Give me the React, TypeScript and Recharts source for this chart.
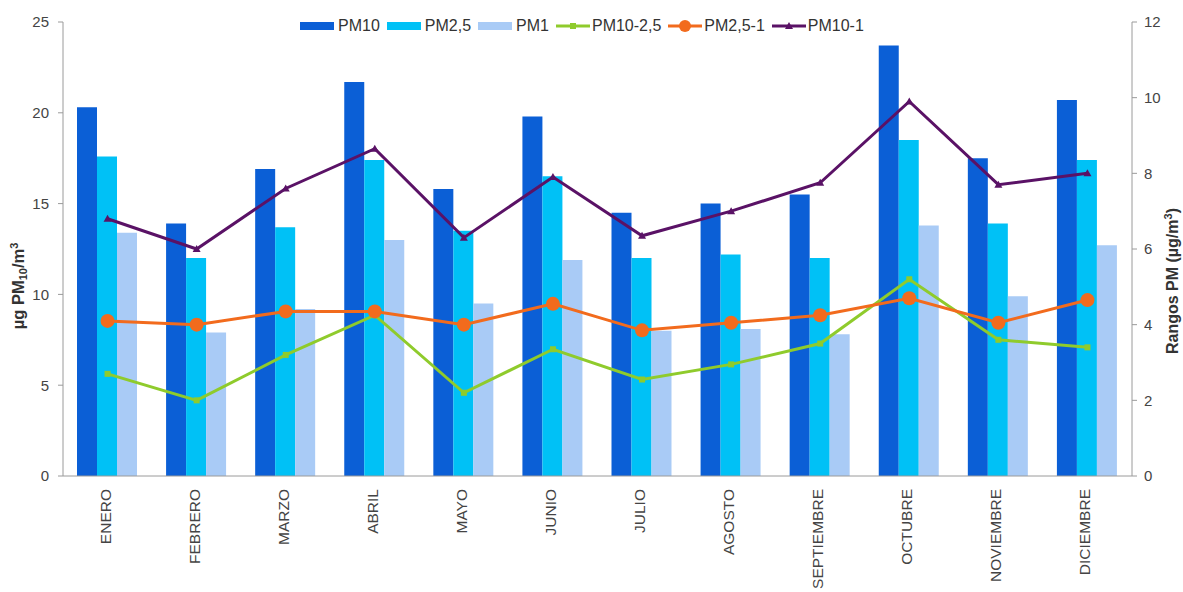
import { Bar, ComposedChart, Line, XAxis, YAxis } from "recharts";

const months = ["ENERO", "FEBRERO", "MARZO", "ABRIL", "MAYO", "JUNIO", "JULIO", "AGOSTO", "SEPTIEMBRE", "OCTUBRE", "NOVIEMBRE", "DICIEMBRE"];
const pm10 = [20.3, 13.9, 16.9, 21.7, 15.8, 19.8, 14.5, 15.0, 15.5, 23.7, 17.5, 20.7];
const pm25 = [17.6, 12.0, 13.7, 17.4, 13.5, 16.5, 12.0, 12.2, 12.0, 18.5, 13.9, 17.4];
const pm1 = [13.4, 7.9, 9.2, 13.0, 9.5, 11.9, 8.0, 8.1, 7.8, 13.8, 9.9, 12.7];
const pm10to25 = [2.7, 2.0, 3.2, 4.25, 2.2, 3.35, 2.55, 2.95, 3.5, 5.2, 3.6, 3.4];
const pm25to1 = [4.1, 4.0, 4.35, 4.35, 4.0, 4.55, 3.85, 4.05, 4.25, 4.7, 4.05, 4.65];
const pm10to1 = [6.8, 6.0, 7.6, 8.65, 6.3, 7.9, 6.35, 7.0, 7.75, 9.9, 7.7, 8.0];

const leftTicks = [0, 5, 10, 15, 20, 25];
const rightTicks = [0, 2, 4, 6, 8, 10, 12];
const boundaryTicks = [0, 1, 2, 3, 4, 5, 6, 7, 8, 9, 10, 11, 12];

const data = months.map((m, i) => ({
  month: m,
  pm10: pm10[i],
  pm25: pm25[i],
  pm1: pm1[i],
  pm10to25: pm10to25[i],
  pm25to1: pm25to1[i],
  pm10to1: pm10to1[i],
}));

const C = {
  pm10: "#0b5fd6",
  pm25: "#00c1f6",
  pm1: "#a9cbf6",
  green: "#8fcb2c",
  orange: "#f26b1d",
  purple: "#5a1266",
  axis: "#9a9a9a",
  text: "#444",
};

const font = "'Liberation Sans', Arial, sans-serif";

function MonthTick({ x, y, payload }: any) {
  const tx = x + 3;
  const ty = y + 4;
  return (
    <text x={tx} y={ty} transform={`rotate(-90 ${tx} ${ty})`} textAnchor="end" fontSize={15.5} fill={C.text} fontFamily={font}>
      {payload.value}
    </text>
  );
}

const SquareDot = ({ cx, cy }: any) => <rect x={cx - 3} y={cy - 3} width={6} height={6} fill={C.green} />;
const TriDot = ({ cx, cy }: any) => <path d={`M${cx - 4},${cy + 3} L${cx + 4},${cy + 3} L${cx},${cy - 4} Z`} fill={C.purple} />;

function LegendItem({ kind, color, label, dot }: { kind: "bar" | "line"; color: string; label: string; dot?: "sq" | "circle" | "tri" }) {
  return (
    <div style={{ display: "flex", alignItems: "center", marginRight: 7 }}>
      {kind === "bar" ? (
        <div style={{ width: 34, height: 8, background: color, marginRight: 4 }} />
      ) : (
        <svg width={34} height={14} style={{ marginRight: 2 }}>
          <line x1={0} y1={7} x2={34} y2={7} stroke={color} strokeWidth={3} />
          {dot === "circle" && <circle cx={17} cy={7} r={6} fill={color} />}
          {dot === "sq" && <rect x={14} y={4} width={6} height={6} fill={color} />}
          {dot === "tri" && <path d="M13,10 L21,10 L17,3 Z" fill={color} />}
        </svg>
      )}
      <span>{label}</span>
    </div>
  );
}

export default function App() {
  return (
    <div style={{ position: "absolute", left: 0, top: 0, width: 1183, height: 592, background: "#fff", fontFamily: font }}>
      <ComposedChart
        width={1183}
        height={592}
        data={data}
        margin={{ top: 22, right: 0, bottom: 0, left: 0 }}
        barCategoryGap={14}
        barGap={0}
      >
        <XAxis
          type="number"
          domain={[0, 12]}
          ticks={boundaryTicks}
          height={1}
          tick={false}
          stroke={C.axis}
          tickSize={5}
          allowDataOverflow
        />
        <XAxis xAxisId="cat" dataKey="month" height={115} interval={0} axisLine={false} tickLine={false} tick={<MonthTick />} />
        <YAxis
          yAxisId="left"
          domain={[0, 25]}
          ticks={leftTicks}
          width={63}
          stroke={C.axis}
          tickSize={5}
          tickMargin={9}
          tick={{ fontSize: 15, fill: C.text, fontFamily: font }}
          label={{
            content: () => (
              <text x={24} y={286} transform="rotate(-90 24 286)" textAnchor="middle" fontSize={16.5} fontWeight="bold" fill="#333" fontFamily={font}>
                µg PM<tspan fontSize={11} dy={3}>10</tspan>
                <tspan dy={-3}>/m</tspan>
                <tspan fontSize={11} dy={-6}>3</tspan>
              </text>
            ),
          }}
        />
        <YAxis
          yAxisId="right"
          orientation="right"
          domain={[0, 12]}
          ticks={rightTicks}
          width={51}
          stroke={C.axis}
          tickSize={5}
          tickMargin={7}
          tick={{ fontSize: 15, fill: C.text, fontFamily: font }}
          label={{
            content: () => (
              <text x={1178} y={281} transform="rotate(-90 1178 281)" textAnchor="middle" fontSize={16} fontWeight="bold" fill="#333" fontFamily={font}>
                Rangos PM (µg/m<tspan fontSize={11} dy={-6}>3</tspan>
                <tspan dy={6}>)</tspan>
              </text>
            ),
          }}
        />
        <Bar xAxisId="cat" yAxisId="left" dataKey="pm10" name="PM10" fill={C.pm10} isAnimationActive={false} />
        <Bar xAxisId="cat" yAxisId="left" dataKey="pm25" name="PM2,5" fill={C.pm25} isAnimationActive={false} />
        <Bar xAxisId="cat" yAxisId="left" dataKey="pm1" name="PM1" fill={C.pm1} isAnimationActive={false} />
        <Line xAxisId="cat" yAxisId="right" dataKey="pm10to25" name="PM10-2,5" stroke={C.green} strokeWidth={3} dot={<SquareDot />} isAnimationActive={false} />
        <Line xAxisId="cat" yAxisId="right" dataKey="pm25to1" name="PM2,5-1" stroke={C.orange} strokeWidth={3} dot={{ r: 7, fill: C.orange, stroke: "none" }} isAnimationActive={false} />
        <Line xAxisId="cat" yAxisId="right" dataKey="pm10to1" name="PM10-1" stroke={C.purple} strokeWidth={3} dot={<TriDot />} isAnimationActive={false} />
      </ComposedChart>
      <div
        style={{
          position: "absolute",
          top: 17,
          left: 300,
          display: "flex",
          fontSize: 16,
          lineHeight: "18px",
          color: "#333",
        }}
      >
        <LegendItem kind="bar" color={C.pm10} label="PM10" />
        <LegendItem kind="bar" color={C.pm25} label="PM2,5" />
        <LegendItem kind="bar" color={C.pm1} label="PM1" />
        <LegendItem kind="line" color={C.green} label="PM10-2,5" dot="sq" />
        <LegendItem kind="line" color={C.orange} label="PM2,5-1" dot="circle" />
        <LegendItem kind="line" color={C.purple} label="PM10-1" dot="tri" />
      </div>
    </div>
  );
}
